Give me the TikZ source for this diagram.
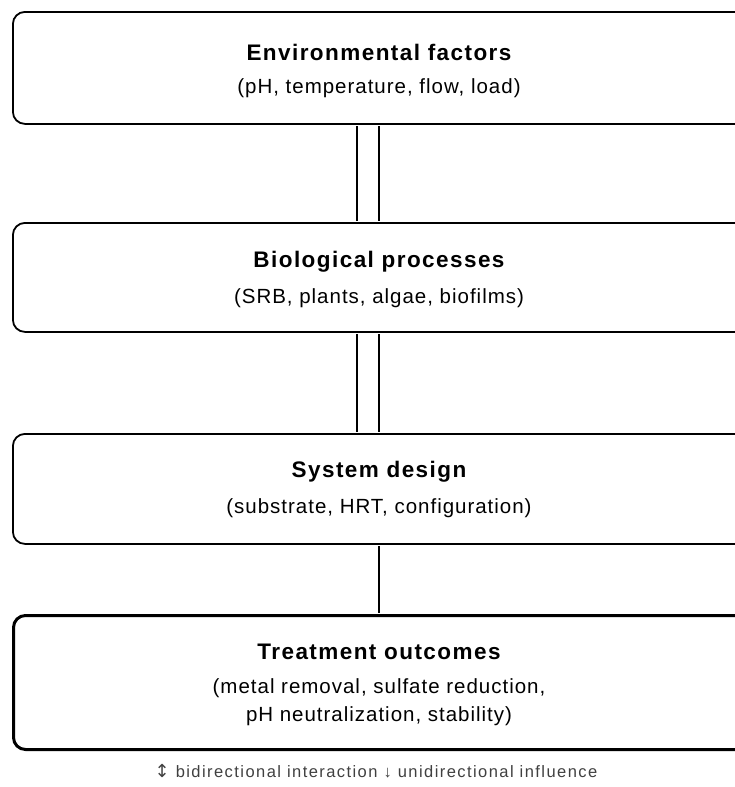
\documentclass[tikz,border=0pt]{standalone}
\usepackage{fontspec}
\setmainfont{Liberation Sans}
\newfontfamily\ttlfont[LetterSpace=6.4]{Liberation Sans}
\newfontfamily\subfont[LetterSpace=4.8]{Liberation Sans}
\newfontfamily\lgfont[LetterSpace=8.7]{Liberation Sans}
\newfontfamily\arrfont{DejaVu Sans}
\begin{document}
\begin{tikzpicture}[x=1pt,y=-1pt,
  box/.style={draw=black, line width=1.8pt, rounded corners=12pt, minimum width=734pt, inner sep=0pt, anchor=north west},
  outbox/.style={box, line width=3pt},
  ttl/.style={font=\ttlfont\fontsize{22.5}{27}\selectfont\bfseries, anchor=center},
  sub/.style={font=\subfont\fontsize{20.5}{25}\selectfont, anchor=center},
  conn/.style={line width=2.6pt, shorten <=1.5pt, shorten >=1.5pt},
  legend/.style={font=\lgfont\fontsize{16.5}{20}\selectfont, text=black!75, anchor=center}]
\useasboundingbox (0,0) rectangle (735,787);
\clip (0,0) rectangle (735,787);
\node[box, minimum height=112pt] (b1) at (12,11) {};
\node[box, minimum height=109pt] (b2) at (12,222) {};
\node[box, minimum height=110pt] (b3) at (12,433) {};
\node[outbox, minimum height=134pt] (b4) at (12,614) {};
\node[ttl] (t1) at (379,52) {Environmental factors};
\node[sub] (s1) at (379,88) {(pH, temperature, flow, load)};
\node[ttl] (t2) at (379,262) {Biological processes};
\node[sub] (s2) at (379,298) {(SRB, plants, algae, biofilms)};
\node[ttl] (t3) at (379,472) {System design};
\node[sub] (s3) at (379,508) {(substrate, HRT, configuration)};
\node[ttl] (t4) at (379,652) {Treatment outcomes};
\node[sub] (s4a) at (379,688) {(metal removal, sulfate reduction,};
\node[sub] (s4b) at (379,716) {pH neutralization, stability)};
\draw[conn] (b1.south -| 357,0) -- (b2.north -| 357,0);
\draw[conn] (b1.south -| 379,0) -- (b2.north -| 379,0);
\draw[conn] (b2.south -| 357,0) -- (b3.north -| 357,0);
\draw[conn] (b2.south -| 379,0) -- (b3.north -| 379,0);
\draw[conn] (b3.south -| 379,0) -- (b4.north -| 379,0);
\node[legend] (lg) at (376,771) {{\arrfont\fontsize{18}{20}\selectfont ↕} bidirectional interaction ↓ unidirectional influence};
\end{tikzpicture}
\end{document}
